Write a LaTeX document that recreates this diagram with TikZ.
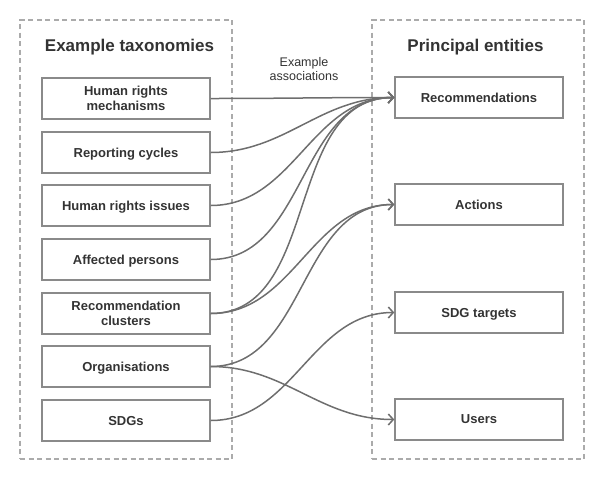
\documentclass[tikz,border=0pt]{standalone}
\usepackage{fontspec}
\setmainfont{Liberation Sans}
\usetikzlibrary{arrows.meta}
\definecolor{txt}{HTML}{333333}
\definecolor{boxline}{HTML}{8A8A8A}
\definecolor{dashline}{HTML}{ABABAB}
\definecolor{conn}{HTML}{6E6E6E}
\begin{document}
\begin{tikzpicture}[x=1pt,y=-1pt,
  group/.style={draw=dashline,line width=1.4pt,dash pattern=on 5pt off 3.5pt,minimum width=212pt,minimum height=439pt,inner sep=0pt},
  boxnode/.style={draw=boxline,line width=1.4pt,minimum width=168pt,minimum height=41pt,inner sep=1pt,text depth=0pt,align=center,text=txt,font=\bfseries\fontsize{13}{15.5}\selectfont},
  title/.style={text=txt,font=\bfseries\fontsize{17}{20}\selectfont,inner sep=0pt},
  lbl/.style={text=txt,font=\fontsize{12.5}{14}\selectfont,align=center,inner sep=0pt},
  conn/.style={draw=conn,line width=1.5pt,-{Straight Barb[length=5pt,width=11pt,line width=1.5pt]}}]
\useasboundingbox (0,0) rectangle (604,480);
\node[group] (lg) at (126,239.5) {};
\node[group] (rg) at (478,239.5) {};
\node[title] (lt) at (129.5,47) {Example taxonomies};
\node[title] (rt) at (475.5,47) {Principal entities};
\node[lbl] (al) at (304,69) {Example\\associations};
\node[boxnode] (hrm) at (126,98.5) {Human rights\\mechanisms};
\node[boxnode] (rc) at (126,152.5) {Reporting cycles};
\node[boxnode] (hri) at (126,205.5) {Human rights issues};
\node[boxnode] (ap) at (126,259.5) {Affected persons};
\node[boxnode] (rcl) at (126,313.5) {Recommendation\\clusters};
\node[boxnode] (org) at (126,366.5) {Organisations};
\node[boxnode] (sdg) at (126,420.5) {SDGs};
\node[boxnode] (rec) at (479,97.5) {Recommendations};
\node[boxnode] (act) at (479,204.5) {Actions};
\node[boxnode] (tgt) at (479,312.5) {SDG targets};
\node[boxnode] (usr) at (479,419.5) {Users};
\draw[conn] (hrm.east) to[out=0,in=180] (rec.west);
\draw[conn] (rc.east) to[out=0,in=180] (rec.west);
\draw[conn] (hri.east) to[out=0,in=180] (rec.west);
\draw[conn] (ap.east) to[out=0,in=180] (rec.west);
\draw[conn] (rcl.east) to[out=0,in=180] (rec.west);
\draw[conn] (rcl.east) to[out=0,in=180] (act.west);
\draw[conn] (org.east) to[out=0,in=180] (act.west);
\draw[conn] (org.east) to[out=0,in=180] (usr.west);
\draw[conn] (sdg.east) to[out=0,in=180] (tgt.west);
\end{tikzpicture}
\end{document}
